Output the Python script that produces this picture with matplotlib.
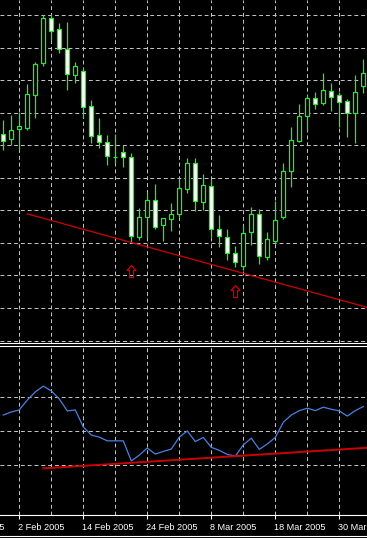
import matplotlib
matplotlib.use("Agg")
import matplotlib.pyplot as plt
from matplotlib.patches import Rectangle
from matplotlib.path import Path
from matplotlib.lines import Line2D
from matplotlib.transforms import blended_transform_factory, offset_copy

# daily candles, 28 Jan 2005 .. 4 Apr 2005
opens = [1.2033, 1.2018, 1.2049, 1.2054, 1.2154, 1.2253, 1.2390, 1.2356, 1.2295, 1.2216,
         1.2228, 1.2120, 1.2030, 1.2009, 1.1965, 1.1978, 1.1963, 1.1719, 1.1779, 1.1831,
         1.1755, 1.1774, 1.1789, 1.1865, 1.1944, 1.1826, 1.1876, 1.1742, 1.1717, 1.1668,
         1.1630, 1.1732, 1.1789, 1.1657, 1.1707, 1.1780, 1.1922, 1.2014, 1.2090, 1.2144,
         1.2129, 1.2167, 1.2154, 1.2136, 1.2098, 1.2183]
highs = [1.2077, 1.2093, 1.2103, 1.2188, 1.2257, 1.2400, 1.2402, 1.2376, 1.2379, 1.2257,
         1.2236, 1.2139, 1.2083, 1.2031, 1.2034, 1.2001, 1.1975, 1.1806, 1.1857, 1.1881,
         1.1775, 1.1823, 1.1898, 1.1960, 1.1960, 1.1912, 1.1895, 1.1786, 1.1742, 1.1690,
         1.1755, 1.1811, 1.1803, 1.1734, 1.1829, 1.1944, 1.2055, 1.2127, 1.2154, 1.2164,
         1.2223, 1.2192, 1.2164, 1.2141, 1.2216, 1.2264]
lows = [1.1985, 1.2001, 1.1985, 1.2047, 1.2083, 1.2243, 1.2323, 1.2282, 1.2170, 1.2190,
        1.2083, 1.2006, 1.1990, 1.1939, 1.1944, 1.1934, 1.1704, 1.1709, 1.1714, 1.1742,
        1.1707, 1.1737, 1.1780, 1.1854, 1.1799, 1.1801, 1.1717, 1.1688, 1.1647, 1.1625,
        1.1617, 1.1693, 1.1635, 1.1647, 1.1699, 1.1772, 1.1873, 1.2011, 1.2045, 1.2110,
        1.2124, 1.2106, 1.2057, 1.2026, 1.2008, 1.2159]
closes = [1.2014, 1.2047, 1.2059, 1.2156, 1.2249, 1.2390, 1.2352, 1.2295, 1.2219, 1.2243,
          1.2118, 1.2028, 1.2011, 1.1967, 1.1965, 1.1963, 1.1722, 1.1779, 1.1831, 1.1750,
          1.1775, 1.1789, 1.1868, 1.1944, 1.1829, 1.1878, 1.1743, 1.1721, 1.1670, 1.1642,
          1.1731, 1.1789, 1.1660, 1.1711, 1.1770, 1.1921, 1.2016, 1.2090, 1.2144, 1.2127,
          1.2170, 1.2149, 1.2134, 1.2098, 1.2164, 1.2223]

# oscillator in the lower window
osc = [54.7, 55.6, 56.2, 59.1, 61.5, 63.2, 61.8, 59.4, 55.9, 56.2,
       51.2, 48.8, 48.2, 47.1, 47.1, 47.1, 41.2, 42.9, 45.0, 43.2,
       44.0, 44.7, 48.2, 50.0, 46.9, 48.1, 45.2, 44.3, 43.1, 42.6,
       45.9, 47.9, 44.6, 46.2, 48.1, 52.6, 54.7, 56.0, 56.7, 56.0,
       57.0, 56.4, 55.9, 54.4, 56.0, 57.2]

date_pos = [-6, 2, 10, 18, 26, 34, 42]
date_labels = ["21 Jan 2005", "2 Feb 2005", "14 Feb 2005", "24 Feb 2005",
               "8 Mar 2005", "18 Mar 2005", "30 Mar 2005"]

# trend lines (two anchor points each) and divergence arrows
price_trend_x = [3, 45]
price_trend_y = [1.1789, 1.1505]
osc_trend_x = [5, 45]
osc_trend_y = [39.0, 45.0]
arrow_bars = [16, 29]
arrow_prices = [1.1614, 1.1552]

green = '#22ee22'
gridc = '#c8c8c8'
W, H = 367, 538
xlim = (-0.41, 45.46)

fig = plt.figure(figsize=(W / 100, H / 100), dpi=100, facecolor='black')
ax = fig.add_axes([0, (H - 343.3) / H, 1, 343.3 / H], facecolor='black')
ax2 = fig.add_axes([0, (H - 515) / H, 1, (515 - 345.5) / H], facecolor='black')

for a in (ax, ax2):
    a.set_xlim(*xlim)
    for s in ('left', 'right'):
        a.spines[s].set_visible(False)
    a.spines['bottom'].set_color('white')
    a.spines['bottom'].set_linewidth(0.8)
    a.set_axisbelow(True)
ax.spines['top'].set_visible(False)
ax2.spines['top'].set_color('white')
ax2.spines['top'].set_linewidth(0.8)

# top window: candles
ax.set_ylim(1.13914, 1.24461)
ax.set_yticks([1.14 + 0.01 * k for k in range(11)])
ax.set_xticks(range(2, 46, 4))
ax.grid(True, color=gridc, lw=0.7, linestyle=(0, (4, 3)))
ax.tick_params(length=0, labelleft=False, labelbottom=False)

for i in range(len(opens)):
    o, h, l, c = opens[i], highs[i], lows[i], closes[i]
    ax.vlines(i, l, h, color=green, lw=0.9, zorder=3)
    fc = 'black' if c > o else 'white'
    ax.add_patch(Rectangle((i - 0.25, min(o, c)), 0.5, abs(c - o), facecolor=fc,
                           edgecolor=green, lw=0.9, zorder=4))

slope = (price_trend_y[1] - price_trend_y[0]) / (price_trend_x[1] - price_trend_x[0])
ax.plot([price_trend_x[0], 47], [price_trend_y[0], price_trend_y[0] + slope * (47 - price_trend_x[0])],
        color='#d00000', lw=0.9, zorder=5)

verts = [(0, 6), (4.5, 1), (2, 1), (2, -6), (-2, -6), (-2, 1), (-4.5, 1), (0, 6)]
codes = [Path.MOVETO] + [Path.LINETO] * 6 + [Path.CLOSEPOLY]
arrow = Path(verts, codes)
ax.plot(arrow_bars, arrow_prices, ls='none', marker=arrow, ms=8.6,
        mfc='none', mec='#d00000', mew=0.9, zorder=5)

# bottom window: oscillator
ax2.set_ylim(25.29, 75.15)
ax2.set_yticks([40, 50, 60])
ax2.set_xticks(date_pos[1:])
ax2.set_xticks(range(6, 46, 8), minor=True)
ax2.grid(True, which='both', color=gridc, lw=0.7, linestyle=(0, (4, 3)))
ax2.tick_params(axis='y', length=0, labelleft=False)
ax2.tick_params(axis='x', which='major', length=3, width=0.8, color='white',
                direction='out', labelbottom=False)
ax2.tick_params(axis='x', which='minor', length=0)

ax2.plot(range(len(osc)), osc, color='#4a80e0', lw=0.9, zorder=3)
slope2 = (osc_trend_y[1] - osc_trend_y[0]) / (osc_trend_x[1] - osc_trend_x[0])
ax2.plot([osc_trend_x[0], 47], [osc_trend_y[0], osc_trend_y[0] + slope2 * (47 - osc_trend_x[0])],
         color='#cc0000', lw=1.4, zorder=3)

tr = blended_transform_factory(ax2.transData, fig.transFigure)
tr = offset_copy(tr, fig=fig, x=-1.5, units='dots')
for p, lab in zip(date_pos, date_labels):
    fig.text(p, (H - 527.5) / H, lab, transform=tr, color='white', ha='left', va='center',
             fontsize=6.6, family='Liberation Sans')

fig.add_artist(Line2D([0, 1], [(H - 536) / H] * 2, transform=fig.transFigure,
                      color='white', lw=0.8))

fig.savefig('out.png', dpi=100, facecolor='black')
